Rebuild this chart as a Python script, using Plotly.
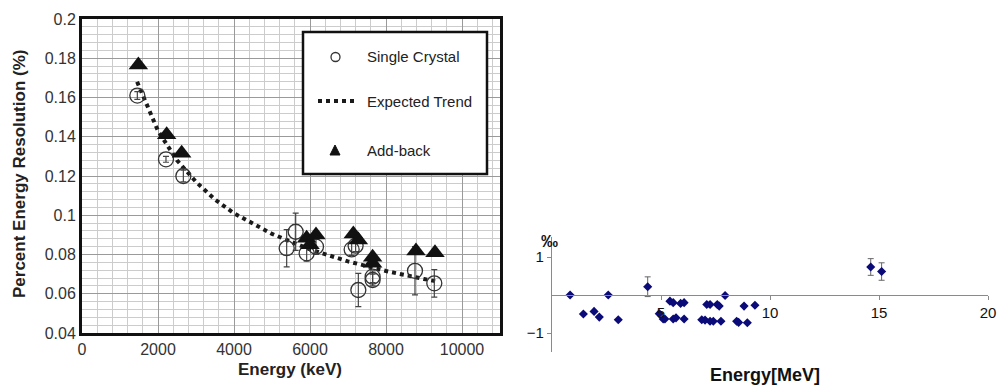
import plotly.graph_objects as go

W, H = 999, 386

# ---------------- Left chart data ----------------
single_energy = [1456, 2210, 2667, 5386, 5623, 5912, 6158, 7096, 7200, 7272, 7648, 7648, 8763, 9271]
single_res    = [0.161, 0.1285, 0.120, 0.0832, 0.0916, 0.0806, 0.084, 0.0826, 0.0845, 0.0619, 0.067, 0.0687, 0.0717, 0.0653]
single_err    = [0.002, 0.0015, 0.003, 0.0095, 0.0095, 0.004, 0.004, 0.003, 0.003, 0.0085, 0.003, 0.003, 0.0123, 0.007]

addback_energy = [1483, 2228, 2623, 5912, 6000, 6158, 7140, 7272, 7648, 7648, 8789, 9289]
addback_res    = [0.1766, 0.141, 0.1316, 0.0883, 0.085, 0.090, 0.0905, 0.0874, 0.0786, 0.0755, 0.0818, 0.0809]

trend_energy = [1450, 2000, 2500, 3000, 3500, 4000, 5000, 6000, 7000, 8000, 9000, 9300]
trend_res    = [0.168, 0.143, 0.128, 0.117, 0.108, 0.101, 0.0905, 0.0826, 0.0765, 0.0716, 0.0675, 0.0664]

left_xticks = [0, 2000, 4000, 6000, 8000, 10000]
left_yticks = [0.04, 0.06, 0.08, 0.1, 0.12, 0.14, 0.16, 0.18, 0.2]

# ---------------- Right chart data ----------------
dev_energy = [0.83, 1.44, 1.93, 2.17, 2.58, 3.04, 4.39, 4.92, 5.10, 5.18, 5.41, 5.56,
              5.56, 5.69, 5.90, 6.06, 6.06, 6.87, 7.02, 7.10, 7.25, 7.25, 7.40, 7.58,
              7.67, 7.75, 7.94, 8.47, 8.56, 8.81, 8.96, 9.31, 14.62, 15.12]
dev_val    = [0.0, -0.5, -0.43, -0.58, 0.0, -0.65, 0.22, -0.49, -0.63, -0.63, -0.16, -0.2,
              -0.63, -0.6, -0.22, -0.2, -0.63, -0.65, -0.66, -0.25, -0.25, -0.69, -0.69, -0.25,
              -0.29, -0.69, -0.01, -0.69, -0.72, -0.29, -0.73, -0.27, 0.74, 0.62]
dev_err    = [None] * 6 + [0.26] + [None] * 25 + [0.22, 0.23]

right_xticks = [5, 10, 15, 20]
right_yticks = [-1, 1]


def px_x(px):
    return px / W


def px_y(py):
    return 1 - py / H


fig = go.Figure()

# Expected trend
fig.add_trace(go.Scatter(
    x=trend_energy, y=trend_res, mode="lines",
    line=dict(color="#1a1a1a", width=4, dash="dot"),
    name="Expected Trend", xaxis="x", yaxis="y", showlegend=False))

# Single crystal
fig.add_trace(go.Scatter(
    x=single_energy, y=single_res, mode="markers",
    marker=dict(symbol="circle-open", size=15, color="#333333", line=dict(width=1.3, color="#333333")),
    error_y=dict(type="data", array=single_err, visible=True, color="#444444", thickness=1.2, width=3),
    name="Single Crystal", xaxis="x", yaxis="y", showlegend=False))

# Add-back
fig.add_trace(go.Scatter(
    x=addback_energy, y=addback_res, mode="markers",
    marker=dict(symbol="triangle-up", size=17, color="#111111"),
    name="Add-back", xaxis="x", yaxis="y", showlegend=False))

# Right chart
fig.add_trace(go.Scatter(
    x=dev_energy, y=dev_val, mode="markers",
    marker=dict(symbol="diamond", size=7, color="#0a0a78"),
    error_y=dict(type="data", array=[e if e is not None else 0 for e in dev_err],
                 visible=True, color="#666666", thickness=1, width=3),
    xaxis="x2", yaxis="y2", showlegend=False))

font_family = "Liberation Sans, Arial, sans-serif"

y2_range = [-1.5, 1.53]
y2_dom = [px_y(352), px_y(237)]
zero_pos = y2_dom[0] + (y2_dom[1] - y2_dom[0]) * (0 - y2_range[0]) / (y2_range[1] - y2_range[0])

fig.update_layout(
    width=W, height=H,
    margin=dict(l=0, r=0, t=0, b=0, pad=0, autoexpand=False),
    paper_bgcolor="white", plot_bgcolor="white",
    font=dict(family=font_family, color="#222222"),
    xaxis=dict(
        domain=[px_x(82), px_x(500)], range=[0, 11000],
        tickvals=left_xticks, tickformat="d",
        showgrid=True, gridcolor="#9a9a9a", gridwidth=1.2,
        minor=dict(dtick=400, showgrid=True, gridcolor="#cccccc", gridwidth=1, ticks=""),
        showline=True, linecolor="#111111", linewidth=3, mirror=True,
        zeroline=False, ticks="", tickfont=dict(size=16, color="#333333"),
        automargin=False, anchor="y"),
    yaxis=dict(
        domain=[px_y(333), px_y(19)], range=[0.04, 0.2],
        tickvals=left_yticks,
        showgrid=True, gridcolor="#9a9a9a", gridwidth=1.2,
        minor=dict(dtick=0.004, showgrid=True, gridcolor="#cccccc", gridwidth=1, ticks=""),
        showline=True, linecolor="#111111", linewidth=3, mirror=True,
        zeroline=False, ticks="", tickfont=dict(size=16, color="#333333"),
        automargin=False, anchor="x"),
    xaxis2=dict(
        domain=[px_x(552), px_x(988)], range=[0, 20],
        tickvals=right_xticks, anchor="free", position=zero_pos,
        showgrid=False, zeroline=False,
        showline=True, linecolor="#8a8a8a", linewidth=1.2,
        ticks="outside", ticklen=4, tickcolor="#8a8a8a",
        automargin=False, tickfont=dict(size=15, color="#111111")),
    yaxis2=dict(
        domain=y2_dom, range=y2_range,
        tickvals=right_yticks, anchor="x2",
        showgrid=False, zeroline=False,
        showline=True, linecolor="#8a8a8a", linewidth=1.2,
        ticks="outside", ticklen=4, tickcolor="#8a8a8a",
        automargin=False, tickfont=dict(size=15, color="#111111")),
)

annotations = [
    dict(text="<b>Percent Energy Resolution (%)</b>", x=px_x(19), y=px_y(174), textangle=-90,
         font=dict(size=17, color="#222222")),
    dict(text="<b>Energy (keV)</b>", x=px_x(290), y=px_y(369), font=dict(size=17, color="#222222")),
    dict(text="<b>Energy[MeV]</b>", x=px_x(765), y=px_y(375), font=dict(size=18, color="#111111")),
    dict(text="<b>‰</b>", x=px_x(549), y=px_y(241), font=dict(size=17, color="#111111")),
    dict(text="Single Crystal", x=px_x(365), y=px_y(57), xanchor="left", font=dict(size=15, color="#222222")),
    dict(text="Expected Trend", x=px_x(365), y=px_y(101), xanchor="left", font=dict(size=15, color="#222222")),
    dict(text="Add-back", x=px_x(365), y=px_y(150), xanchor="left", font=dict(size=15, color="#222222")),
]
for a in annotations:
    a.setdefault("xanchor", "center")
    a.update(xref="paper", yref="paper", yanchor="middle", showarrow=False)
fig.update_layout(annotations=annotations)

shapes = [
    # legend box
    dict(type="rect", xref="paper", yref="paper", x0=px_x(303), x1=px_x(487), y0=px_y(174), y1=px_y(32),
         line=dict(color="#111111", width=2.5), fillcolor="white", layer="above"),
    # legend symbols
    dict(type="circle", xref="paper", yref="paper", x0=px_x(331), x1=px_x(340), y0=px_y(61.5), y1=px_y(52.5),
         line=dict(color="#333333", width=1.3), layer="above"),
    dict(type="line", xref="paper", yref="paper", x0=px_x(318), x1=px_x(355), y0=px_y(101), y1=px_y(101),
         line=dict(color="#1a1a1a", width=4, dash="dot"), layer="above"),
    dict(type="path", xref="paper", yref="paper",
         path=f"M {px_x(330)} {px_y(155)} L {px_x(340)} {px_y(155)} L {px_x(335)} {px_y(145)} Z",
         line=dict(color="#111111", width=1), fillcolor="#111111", layer="above"),
]
fig.update_layout(shapes=shapes)

fig.write_html("out.html", config={"displayModeBar": False},
               post_script="document.body.style.margin='0';document.body.style.padding='0';")
